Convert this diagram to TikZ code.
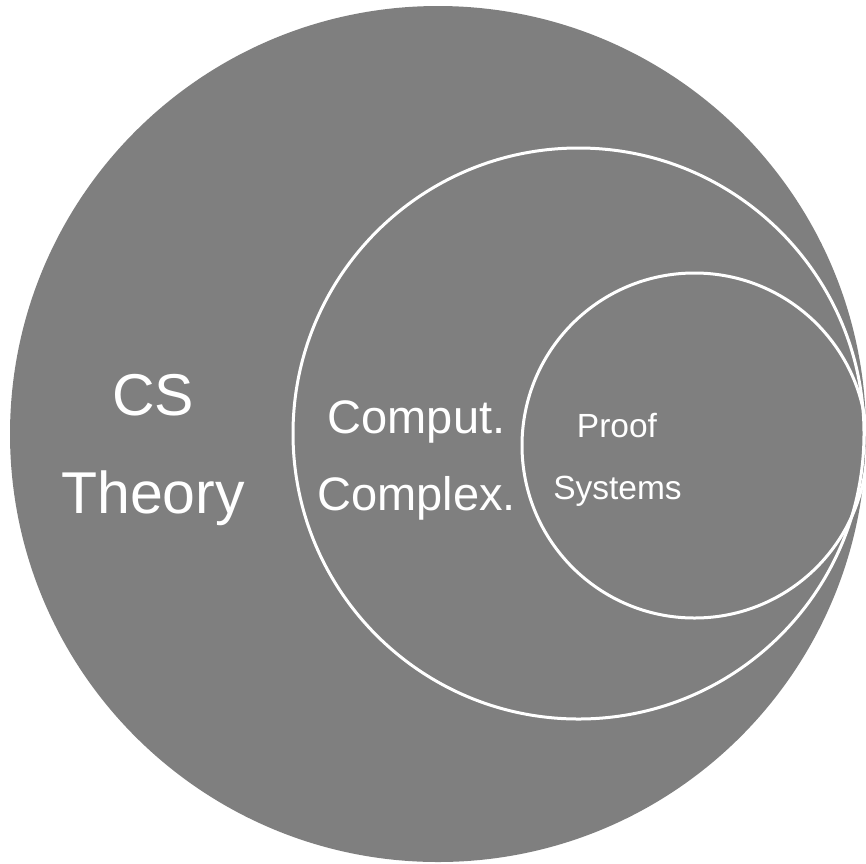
\documentclass[tikz,border=0pt]{standalone}
\usepackage{fontspec}
\setmainfont{Liberation Sans}
\definecolor{discgray}{HTML}{7F7F7F}
\begin{document}
\begin{tikzpicture}[x=1pt,y=-1pt,
  ring/.style={circle, draw=white, line width=3pt, inner sep=0pt, outer sep=0pt},
  lbl/.style={text=white, anchor=base, inner sep=0pt},
  big/.style={lbl, font=\fontsize{59}{60}\selectfont},
  mid/.style={lbl, font=\fontsize{47}{48}\selectfont},
  sml/.style={lbl, font=\fontsize{33.5}{34}\selectfont}]
\useasboundingbox (0,0) rectangle (866,863);
\node[circle, fill=discgray, inner sep=0pt, minimum size=856pt] (cs) at (438,434) {};
\node[ring, minimum size=571pt] (cc) at (578.5,433.5) {};
\node[ring, minimum size=345pt] (ps) at (694.5,445.5) {};
\node[big] (t1) at (153,415) {CS};
\node[big] (t2) at (153,513) {Theory};
\node[mid] (m1) at (416.5,433) {Comput.};
\node[mid] (m2) at (416.5,510) {Complex.};
\node[sml] (s1) at (617,437) {Proof};
\node[sml] (s2) at (617.5,499) {Systems};
\end{tikzpicture}
\end{document}
